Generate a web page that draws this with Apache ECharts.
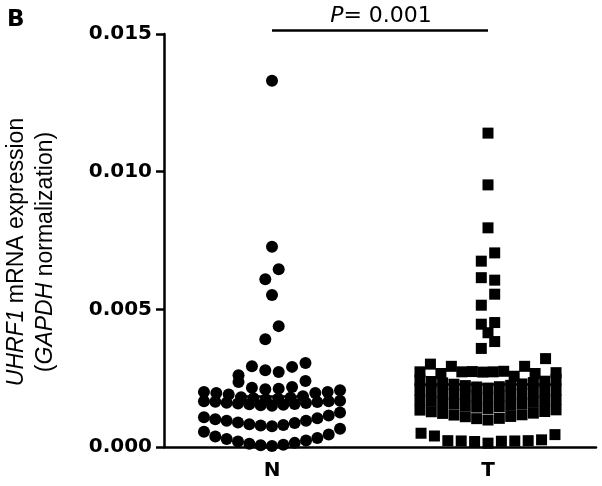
<!DOCTYPE html>
<html><head><meta charset="utf-8">
<script src="https://cdn.jsdelivr.net/npm/echarts@6/dist/echarts.min.js"></script>
<style>html,body{margin:0;padding:0;background:#fff}#c{width:602px;height:486px}</style>
</head><body><div id="c"></div>
<script>
// ---- data ----
const categories = ['N', 'T'];
const yTicks = [0, 0.005, 0.010, 0.015];
// values listed bin by bin (bottom to top), each bin in centre-out order
const nValues = [
  0.00004, 0.00006, 0.00008, 0.00012, 0.00015, 0.0002, 0.00024, 0.00029, 0.00033, 0.00038, 0.00045, 0.00055, 0.00066,
  0.00075, 0.00078, 0.0008, 0.00083, 0.00087, 0.00089, 0.00095, 0.00095, 0.00104, 0.00101, 0.00114, 0.00108, 0.00125,
  0.0015, 0.00152, 0.00153, 0.00155, 0.00156, 0.00158, 0.0016, 0.00161, 0.00163, 0.00164, 0.00166, 0.00166, 0.00168,
  0.00173, 0.00175, 0.00177, 0.00179, 0.00181, 0.00184, 0.00191, 0.00196, 0.00196, 0.002, 0.002, 0.00206,
  0.0021, 0.00212, 0.00215, 0.00218, 0.00236, 0.0024,
  0.00279, 0.00272, 0.00293, 0.00291, 0.00261, 0.00305,
  0.00391, 0.00439, 0.00552, 0.00609, 0.00646, 0.00727, 0.0133
];
const tValues = [
  0.00014, 0.0002, 0.00021, 0.00022, 0.00022, 0.00023, 0.00023, 0.0004, 0.00026, 0.0005, 0.00045,
  0.00098, 0.00103, 0.00104, 0.0011, 0.00111, 0.00116, 0.00117, 0.00122, 0.00123, 0.00128, 0.00129, 0.00134, 0.00135,
  0.0014, 0.00145, 0.00146, 0.0015, 0.00151, 0.00156, 0.00157, 0.00161, 0.00162, 0.00166, 0.00167, 0.00171, 0.00172,
  0.00178, 0.00182, 0.00183, 0.00187, 0.00188, 0.00192, 0.00193, 0.00197, 0.00198, 0.00202, 0.00203, 0.00206, 0.00207,
  0.00214, 0.00218, 0.00219, 0.00223, 0.00224, 0.00228, 0.00229, 0.00233, 0.00234, 0.00238, 0.00239, 0.00243, 0.00246,
  0.00272, 0.00273, 0.00274, 0.00275, 0.00273, 0.00257, 0.00293, 0.00293, 0.00267, 0.00267, 0.00301, 0.00321, 0.00273, 0.0027,
  0.00358, 0.00383, 0.00415, 0.00446, 0.00452, 0.00515, 0.00555, 0.00615, 0.00606, 0.00675, 0.00705, 0.00796, 0.00952, 0.0114
];
// row (bin) boundaries used to stack the dots into rows
const nBinEdges = [0.0007, 0.00135, 0.00172, 0.00207, 0.0025, 0.0033, 0.0047, 0.0053, 0.0058, 0.0068, 0.008];
const tBinEdges = [0.0006, 0.00138, 0.00176, 0.0021, 0.0025, 0.0033, 0.004, 0.0043, 0.0049, 0.0058, 0.0064, 0.0075, 0.009, 0.0105];
const meanValues = [0.00184, 0.00228];
const pValueLabel = '= 0.001';

// ---- dot-plot layout: rows by bin, centre-out placement ----
const STEP = 0.062, MAXHALF = 0.315;
function swarm(values, edges, center) {
  const binOf = v => { let i = 0; while (i < edges.length && v >= edges[i]) i++; return i; };
  const bins = new Map();
  values.forEach(v => { const b = binOf(v); if (!bins.has(b)) bins.set(b, []); bins.get(b).push(v); });
  const out = [];
  bins.forEach(list => {
    const n = list.length;
    const step = n > 1 ? Math.min(STEP, MAXHALF / ((n - 1) / 2)) : STEP;
    list.forEach((v, k) => {
      let slot;
      if (n % 2) slot = k === 0 ? 0 : (k % 2 === 1 ? -(k + 1) / 2 : k / 2);
      else { const m = Math.floor(k / 2) + 0.5; slot = k % 2 === 0 ? -m : m; }
      out.push([center + slot * step, v]);
    });
  });
  return out;
}

const SANS = '"Liberation Sans", Arial, Helvetica, sans-serif';
const WIDE = '"DejaVu Sans", Verdana, sans-serif';
const chart = echarts.init(document.getElementById('c'));
const lineStyle = { color: '#000', width: 2.5 };
function meanLine(i, half) {
  return {
    silent: true, symbol: 'none', label: { show: false },
    lineStyle: { color: '#000', width: 2.5, type: 'solid', opacity: 1 },
    data: [[{ coord: [i - half, meanValues[i]] }, { coord: [i + half, meanValues[i]] }]]
  };
}
chart.setOption({
  animation: false,
  backgroundColor: '#fff',
  grid: { left: 164, right: 6, top: 34, bottom: 39 },
  xAxis: [
    {
      type: 'category', data: categories,
      axisLine: { onZero: false, lineStyle },
      axisTick: { alignWithLabel: true, length: 6, lineStyle },
      axisLabel: { color: '#000', fontFamily: WIDE, fontWeight: 'bold', fontSize: 20, margin: 14 }
    },
    { type: 'value', min: -0.5, max: 1.5, show: false }
  ],
  yAxis: {
    type: 'value', min: yTicks[0], max: yTicks[yTicks.length - 1], interval: yTicks[1] - yTicks[0],
    axisLine: { show: true, onZero: false, lineStyle },
    axisTick: { show: true, length: 8, lineStyle },
    splitLine: { show: false },
    axisLabel: { color: '#000', fontFamily: WIDE, fontWeight: 'bold', fontSize: 20, margin: 12,
      formatter: v => v.toFixed(3) }
  },
  series: [
    { type: 'scatter', xAxisIndex: 1, symbol: 'circle', symbolSize: 12, silent: true,
      itemStyle: { color: '#000', opacity: 1 }, data: swarm(nValues, nBinEdges, 0), markLine: meanLine(0, 0.17) },
    { type: 'scatter', xAxisIndex: 1, symbol: 'rect', symbolSize: 11, silent: true,
      itemStyle: { color: '#000', opacity: 1 }, data: swarm(tValues, tBinEdges, 1), markLine: meanLine(1, 0.34) }
  ]
});

const x0 = chart.convertToPixel({ xAxisIndex: 1 }, 0);
const x1 = chart.convertToPixel({ xAxisIndex: 1 }, 1);
const yTop = chart.convertToPixel({ yAxisIndex: 0 }, yTicks[yTicks.length - 1]);
chart.setOption({
  graphic: [
    { type: 'text', x: 7, y: 20, style: { text: 'B', font: 'bold 23px ' + WIDE, fill: '#000', verticalAlign: 'middle' } },
    { type: 'line', shape: { x1: x0, y1: yTop - 3.5, x2: x1, y2: yTop - 3.5 }, style: { stroke: '#000', lineWidth: 2.5 } },
    { type: 'text', x: (x0 + x1) / 2 + 1, y: 16,
      style: { text: '{i|P}{r|' + pValueLabel + '}', align: 'center', verticalAlign: 'middle',
        rich: { i: { font: 'italic 22px ' + WIDE, fill: '#000' }, r: { font: '22px ' + WIDE, fill: '#000' } } } },
    { type: 'text', x: 31, y: 252, rotation: Math.PI / 2,
      style: { text: '{i|UHRF1}{r| mRNA expression}\n{r|(}{i|GAPDH}{r| normalization)}',
        align: 'center', verticalAlign: 'middle',
        rich: { i: { font: 'italic 23px ' + SANS, fill: '#000', lineHeight: 29 },
                r: { font: '23px ' + SANS, fill: '#000', lineHeight: 29 } } } }
  ]
});
</script></body></html>
